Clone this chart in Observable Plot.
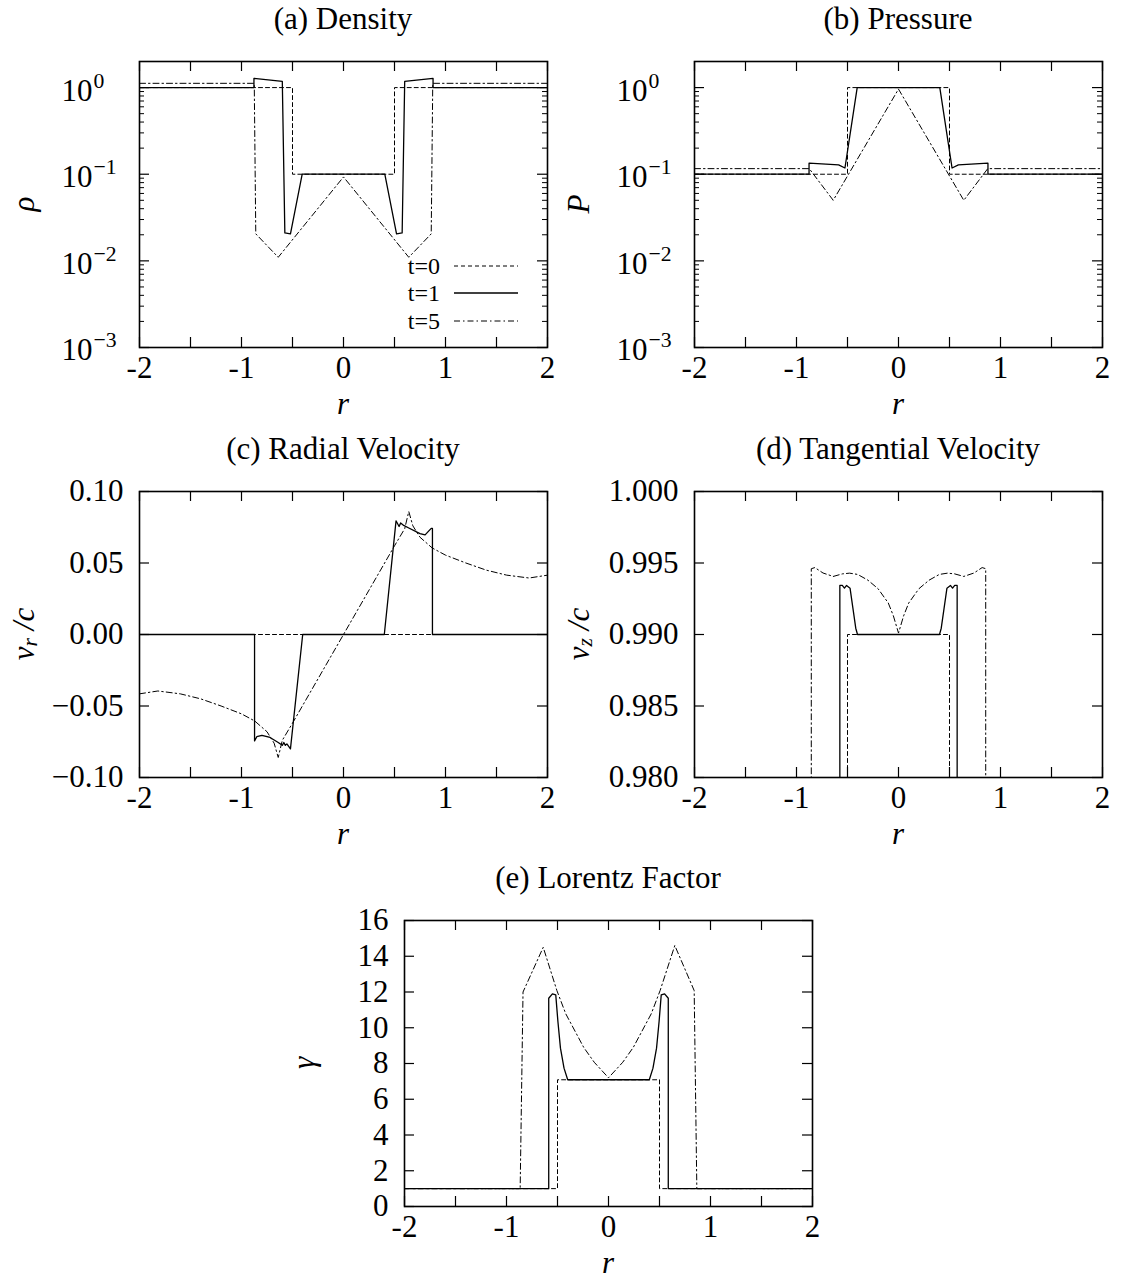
<!DOCTYPE html>
<html><head><meta charset="utf-8">
<script src="https://cdn.jsdelivr.net/npm/d3@7"></script>
<script src="https://cdn.jsdelivr.net/npm/@observablehq/plot@0.6"></script>
<style>
body{margin:0;background:#fff;}
#root{position:relative;width:1121px;height:1287px;background:#fff;overflow:hidden;}
.panel{position:absolute;}
</style></head><body><div id="root"></div>
<script>
// ---------------- data ----------------
const timeLabels = ["t=0", "t=1", "t=5"];

// x axis
const xTicks = [-2, -1.5, -1, -0.5, 0, 0.5, 1, 1.5, 2];
const xTickLabels = ["-2", "-1", "0", "1", "2"];

// (a) density  [r, rho]
const rho_t0 = [[-2,1],[-0.5,1],[-0.5,0.1],[0.5,0.1],[0.5,1],[2,1]];
const rho_t1 = [[-2,1],[-0.878,1],[-0.878,1.28],[-0.6,1.18],[-0.575,0.021],[-0.52,0.0205],[-0.405,0.1],
                [0.405,0.1],[0.52,0.0205],[0.575,0.021],[0.6,1.18],[0.878,1.28],[0.878,1],[2,1]];
const rho_t5 = [[-2,1.12],[-0.875,1.12],[-0.86,0.0205],[-0.64,0.011],[0,0.093],[0.64,0.011],[0.86,0.0205],[0.875,1.12],[2,1.12]];

// (b) pressure [r, P]
const p_t0 = [[-2,0.1],[-0.5,0.1],[-0.5,1],[0.5,1],[0.5,0.1],[2,0.1]];
const p_t1 = [[-2,0.1],[-0.877,0.1],[-0.877,0.134],[-0.587,0.128],[-0.525,0.118],[-0.405,1],
              [0.405,1],[0.525,0.118],[0.587,0.128],[0.877,0.134],[0.877,0.1],[2,0.1]];
const p_t5 = [[-2,0.116],[-0.875,0.116],[-0.64,0.05],[0,0.96],[0.64,0.05],[0.875,0.116],[2,0.116]];

// (c) radial velocity [r, v_r/c]
const vr_t0 = [[-2,0],[2,0]];
const vr_t1 = [[-2,0],[-0.872,0],[-0.872,-0.0744],[-0.85,-0.0715],[-0.8,-0.0705],[-0.72,-0.072],[-0.64,-0.0755],
               [-0.6,-0.0775],[-0.585,-0.0755],[-0.57,-0.0775],[-0.555,-0.0765],[-0.52,-0.08],[-0.4,0],
               [0.4,0],[0.515,0.0795],[0.545,0.0755],[0.56,0.078],[0.585,0.0765],[0.64,0.0745],[0.75,0.0705],
               [0.8,0.0697],[0.86,0.0742],[0.872,0.0742],[0.872,0],[2,0]];
const vr_t5 = [[-2,-0.0415],[-1.82,-0.0395],[-1.6,-0.0415],[-1.4,-0.045],[-1.2,-0.05],[-1.0,-0.0555],[-0.87,-0.0605],
               [-0.75,-0.068],[-0.68,-0.076],[-0.64,-0.086],[-0.6,-0.074],[-0.5,-0.062],[0,0],
               [0.5,0.062],[0.6,0.074],[0.64,0.086],[0.68,0.076],[0.75,0.068],[0.87,0.0605],[1.0,0.0555],
               [1.2,0.05],[1.4,0.045],[1.6,0.0415],[1.82,0.0395],[2,0.0415]];

// (d) tangential velocity [r, v_z/c]
const vz_t0 = [[-2,0],[-0.5,0],[-0.5,0.99],[0.5,0.99],[0.5,0],[2,0]];
const vz_t1 = [[-2,0],[-0.575,0],[-0.575,0.99343],[-0.551,0.99343],[-0.53,0.99324],[-0.509,0.99343],[-0.475,0.99324],
               [-0.447,0.99184],[-0.419,0.99044],[-0.402,0.99],[0.402,0.99],[0.419,0.99044],[0.447,0.99184],
               [0.475,0.99324],[0.509,0.99343],[0.53,0.99324],[0.551,0.99343],[0.575,0.99343],[0.575,0],[2,0]];
const vz_t5 = [[-2,0],[-0.855,0],[-0.855,0.9946],[-0.82,0.99468],[-0.74,0.9943],[-0.64,0.99406],[-0.55,0.99424],
               [-0.48,0.99429],[-0.4,0.9942],[-0.3,0.9938],[-0.2,0.9932],[-0.1,0.9922],[-0.05,0.9913],[0,0.9901],
               [0.05,0.9913],[0.1,0.9922],[0.2,0.9932],[0.3,0.9938],[0.4,0.9942],[0.48,0.99429],[0.55,0.99424],
               [0.64,0.99406],[0.74,0.9943],[0.82,0.99468],[0.855,0.9946],[0.855,0],[2,0]];

// (e) Lorentz factor [r, gamma]
const g_t0 = [[-2,1],[-0.5,1],[-0.5,7.09],[0.5,7.09],[0.5,1],[2,1]];
const g_t1 = [[-2,1],[-0.586,1],[-0.586,11.65],[-0.55,11.9],[-0.517,11.84],[-0.496,10.35],[-0.471,8.86],
              [-0.436,7.74],[-0.4,7.09],[0.4,7.09],[0.436,7.74],[0.471,8.86],[0.496,10.35],[0.517,11.84],
              [0.55,11.9],[0.586,11.65],[0.586,1],[2,1]];
const g_t5 = [[-2,1],[-0.866,1],[-0.838,12.0],[-0.64,14.5],[-0.506,12.08],[-0.419,10.78],[-0.244,8.91],
              [-0.14,8.07],[0,7.2],[0.14,8.07],[0.244,8.91],[0.419,10.78],[0.506,12.08],[0.65,14.6],
              [0.84,12.08],[0.866,1],[2,1]];

// y ticks
const logMajor = [0.001, 0.01, 0.1, 1];
const logMajorExp = ["−3", "−2", "−1", "0"];
const logMinor = [0.002,0.003,0.004,0.005,0.006,0.007,0.008,0.009,
                  0.02,0.03,0.04,0.05,0.06,0.07,0.08,0.09,
                  0.2,0.3,0.4,0.5,0.6,0.7,0.8,0.9, 2];
const vrTicks = [-0.1, -0.05, 0, 0.05, 0.1];
const vrTickLabels = ["−0.10", "−0.05", "0.00", "0.05", "0.10"];
const vzTicks = [0.98, 0.985, 0.99, 0.995, 1.0];
const vzTickLabels = ["0.980", "0.985", "0.990", "0.995", "1.000"];
const gTicks = [0, 2, 4, 6, 8, 10, 12, 14, 16];
const gTickLabels = ["0", "2", "4", "6", "8", "10", "12", "14", "16"];

// ---------------- drawing ----------------
const FONT = "'Liberation Serif', 'Times New Roman', serif";
const FS = 31, FT = 31, FL = 24;
const W = 408, H = 286, ML = 139, MR = 14, MT = 55, MB = 80;
const TICK = 10, MINOR = 5;
const STYLES = [
  {dash: "4,3", width: 1},
  {dash: null, width: 1.3},
  {dash: "6,3,1.5,3", width: 1}
];

function seriesMarks(list) {
  return list.map((s, i) => Plot.line(s, {
    x: d => d[0], y: d => d[1], stroke: "#000", strokeWidth: STYLES[i].width,
    strokeDasharray: STYLES[i].dash, clip: true
  }));
}

function decor({title, ylabel, ylabelDx, legend}) {
  return (index, scales, values, dims) => {
    const g = d3.create("svg:g").attr("font-family", FONT).attr("fill", "#000");
    const fl = dims.marginLeft, fr = dims.width - dims.marginRight;
    const ft = dims.marginTop, fb = dims.height - dims.marginBottom;
    const cx = (fl + fr) / 2, cy = (ft + fb) / 2;
    g.append("text").attr("x", cx).attr("y", ft - 32).attr("text-anchor", "middle")
      .attr("font-size", FT).text(title);
    g.append("text").attr("x", cx).attr("y", fb + 67).attr("text-anchor", "middle")
      .attr("font-size", FS).attr("font-style", "italic").text("r");
    const yl = g.append("text")
      .attr("transform", `translate(${fl - ylabelDx},${cy}) rotate(-90)`)
      .attr("text-anchor", "middle").attr("dominant-baseline", "central")
      .attr("font-size", FS).attr("font-style", "italic");
    ylabel.forEach(part => {
      const t = yl.append("tspan").text(part.t);
      if (part.sub) t.attr("font-size", FS * 0.7).attr("dy", 7);
      if (part.back) t.attr("dy", -7);
    });
    if (legend) {
      const offs = [81, 54, 26];
      timeLabels.forEach((lab, i) => {
        const y = fb - offs[i];
        g.append("text").attr("x", fr - 107).attr("y", y).attr("dominant-baseline", "central")
          .attr("text-anchor", "end").attr("font-size", FL).text(lab);
        g.append("line").attr("x1", fr - 93).attr("x2", fr - 29).attr("y1", y).attr("y2", y)
          .attr("stroke", "#000").attr("stroke-width", STYLES[i].width)
          .attr("stroke-dasharray", STYLES[i].dash);
      });
    }
    return g.node();
  };
}

function panel({left, top, y, series, majors, minors, yLabels, logLabels, title, ylabel, ylabelDx = 116, legend = false}) {
  const marks = [
    ...seriesMarks(series),
    Plot.tickX(xTicks, {x: d => d, insetTop: H - TICK, stroke: "#000", strokeWidth: 1.2}),
    Plot.tickX(xTicks, {x: d => d, insetBottom: H - TICK, stroke: "#000", strokeWidth: 1.2}),
    Plot.tickY(majors, {y: d => d, insetRight: W - TICK, stroke: "#000", strokeWidth: 1.2}),
    Plot.tickY(majors, {y: d => d, insetLeft: W - TICK, stroke: "#000", strokeWidth: 1.2}),
    Plot.frame({stroke: "#000", strokeWidth: 1.6}),
    Plot.text(xTickLabels, {x: d => +d, text: d => d, frameAnchor: "bottom", dy: 30,
      fontSize: FS, fontFamily: FONT, fill: "#000"}),
    decor({title, ylabel, ylabelDx, legend})
  ];
  if (minors) {
    marks.push(Plot.tickY(minors, {y: d => d, insetRight: W - MINOR, stroke: "#000"}));
    marks.push(Plot.tickY(minors, {y: d => d, insetLeft: W - MINOR, stroke: "#000"}));
  }
  if (yLabels) {
    marks.push(Plot.text(yLabels, {y: majors, text: d => d, frameAnchor: "left", dx: -16,
      textAnchor: "end", fontSize: FS, fontFamily: FONT, fill: "#000"}));
  }
  if (logLabels) {
    marks.push(Plot.text(logLabels, {y: majors, text: () => "10", frameAnchor: "left", dx: -78, dy: 3,
      textAnchor: "start", fontSize: FS, fontFamily: FONT, fill: "#000"}));
    marks.push(Plot.text(logLabels, {y: majors, text: d => d, frameAnchor: "left", dx: -46, dy: -7,
      textAnchor: "start", fontSize: FS * 0.7, fontFamily: FONT, fill: "#000"}));
  }
  const svg = Plot.plot({
    width: ML + W + MR, height: MT + H + MB,
    marginLeft: ML, marginRight: MR, marginTop: MT, marginBottom: MB,
    x: {domain: [-2, 2], axis: null},
    y: {...y, axis: null},
    style: {fontFamily: FONT, background: "transparent", color: "#000", overflow: "visible"},
    marks
  });
  const div = document.createElement("div");
  div.className = "panel";
  div.style.left = (left - ML) + "px";
  div.style.top = (top - MT) + "px";
  div.appendChild(svg);
  document.getElementById("root").appendChild(div);
}

panel({left: 139, top: 61, y: {type: "log", domain: [0.001, 2]}, series: [rho_t0, rho_t1, rho_t5],
  majors: logMajor, minors: logMinor, logLabels: logMajorExp, title: "(a) Density",
  ylabel: [{t: "ρ"}], legend: true});
panel({left: 694, top: 61, y: {type: "log", domain: [0.001, 2]}, series: [p_t0, p_t1, p_t5],
  majors: logMajor, minors: logMinor, logLabels: logMajorExp, title: "(b) Pressure",
  ylabel: [{t: "P"}]});
panel({left: 139, top: 491, y: {domain: [-0.1, 0.1]}, series: [vr_t0, vr_t1, vr_t5],
  majors: vrTicks, yLabels: vrTickLabels, title: "(c) Radial Velocity",
  ylabel: [{t: "v"}, {t: "r", sub: true}, {t: " /c", back: true}]});
panel({left: 694, top: 491, y: {domain: [0.98, 1.0]}, series: [vz_t0, vz_t1, vz_t5],
  majors: vzTicks, yLabels: vzTickLabels, title: "(d) Tangential Velocity",
  ylabel: [{t: "v"}, {t: "z", sub: true}, {t: " /c", back: true}]});
panel({left: 404, top: 920, y: {domain: [0, 16]}, series: [g_t0, g_t1, g_t5],
  majors: gTicks, yLabels: gTickLabels, title: "(e) Lorentz Factor",
  ylabel: [{t: "γ"}], ylabelDx: 101});
</script></body></html>
